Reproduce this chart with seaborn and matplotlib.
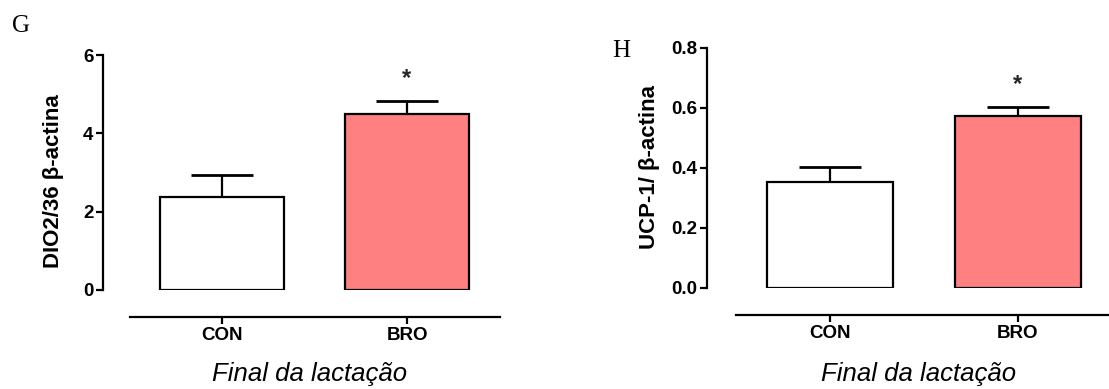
import matplotlib
matplotlib.use("Agg")
import matplotlib.pyplot as plt
import seaborn as sns
from matplotlib.ticker import FormatStrFormatter

# Groups and bar fills
groups = ["CON", "BRO"]
bar_colors = ["#FFFFFF", "#FF8080"]

# DIO2/36 expression (mean and SEM)
dio2_mean = [2.37, 4.49]
dio2_sem = [0.56, 0.33]
dio2_ticks = [0, 2, 4, 6]

# UCP-1 expression (mean and SEM)
ucp1_mean = [0.351, 0.573]
ucp1_sem = [0.050, 0.028]
ucp1_ticks = [0.0, 0.2, 0.4, 0.6, 0.8]

# Groups marked as significantly different from control
significant = [False, True]

sns.set_theme(style="ticks")
plt.rcParams["font.family"] = ["Liberation Sans", "DejaVu Sans"]

W, H = 1109, 389
fig = plt.figure(figsize=(W / 100, H / 100), dpi=100)


def px_axes(left, top, right, bottom):
    return fig.add_axes([left / W, 1 - bottom / H, (right - left) / W, (bottom - top) / H])


def draw_panel(ax, means, sems, ticks, ylabel, fmt, xmax, left_out, bottom_out,
               label_coords):
    sns.barplot(x=groups, y=means, hue=groups, palette=bar_colors, saturation=1,
                edgecolor="black", linewidth=1.6, width=0.67, legend=False,
                errorbar=None, ax=ax)
    # Upward-only SEM bars
    _, caps, _ = ax.errorbar([0, 1], means, yerr=[[0, 0], sems], fmt="none",
                             ecolor="black", elinewidth=1.6, capsize=22,
                             capthick=2.0, zorder=3)
    caps[0].set_visible(False)
    for i, sig in enumerate(significant):
        if sig:
            ax.annotate("*", xy=(i, means[i] + sems[i]), xytext=(0, 8),
                        textcoords="offset points", ha="center", va="bottom",
                        fontsize=17, fontweight="bold")
    ax.set_xlim(-0.5, xmax)
    ax.set_ylim(ticks[0], ticks[-1])
    ax.set_yticks(ticks)
    ax.yaxis.set_major_formatter(FormatStrFormatter(fmt))
    ax.set_xticks([0, 1])
    ax.set_xticklabels(groups)
    for s in ("top", "right"):
        ax.spines[s].set_visible(False)
    ax.spines["left"].set_position(("outward", left_out))
    ax.spines["bottom"].set_position(("outward", bottom_out))
    for s in ("left", "bottom"):
        ax.spines[s].set_linewidth(1.6)
        ax.spines[s].set_color("black")
    ax.tick_params(axis="both", direction="out", width=1.6, length=5,
                   labelsize=13.5, pad=2, colors="black")
    for lab in ax.get_xticklabels() + ax.get_yticklabels():
        lab.set_fontweight("bold")
    ax.set_xlabel("")
    ax.set_ylabel(ylabel, fontsize=16, fontweight="bold", color="black")
    ax.yaxis.set_label_coords(*label_coords)
    ax.set_facecolor("white")


ax_g = px_axes(129.5, 55, 499.5, 290)
draw_panel(ax_g, dio2_mean, dio2_sem, dio2_ticks, "DIO2/36 β-actina", "%d",
           1.5, 19, 19.5, (-0.177, 0.462))

ax_h = px_axes(735.5, 47.7, 1109, 287.7)
draw_panel(ax_h, ucp1_mean, ucp1_sem, ucp1_ticks, "UCP-1/ β-actina", "%.1f",
           -0.5 + 373.5 / 188.3, 20.7, 19.7, (-0.202, 0.504))

# Shared x-axis titles
for xc in (310, 919):
    fig.text(xc / W, 1 - 381 / H, "Final da lactação", ha="center",
             va="baseline", fontsize=18.5, style="italic", color="black")

# Panel letters
fig.text(12 / W, 1 - 32 / H, "G", fontsize=18, family="Liberation Serif",
         va="baseline", ha="left", color="black")
fig.text(612 / W, 1 - 57 / H, "H", fontsize=18, family="Liberation Serif",
         va="baseline", ha="left", color="black")

fig.savefig("out.png", dpi=100, facecolor="white")
